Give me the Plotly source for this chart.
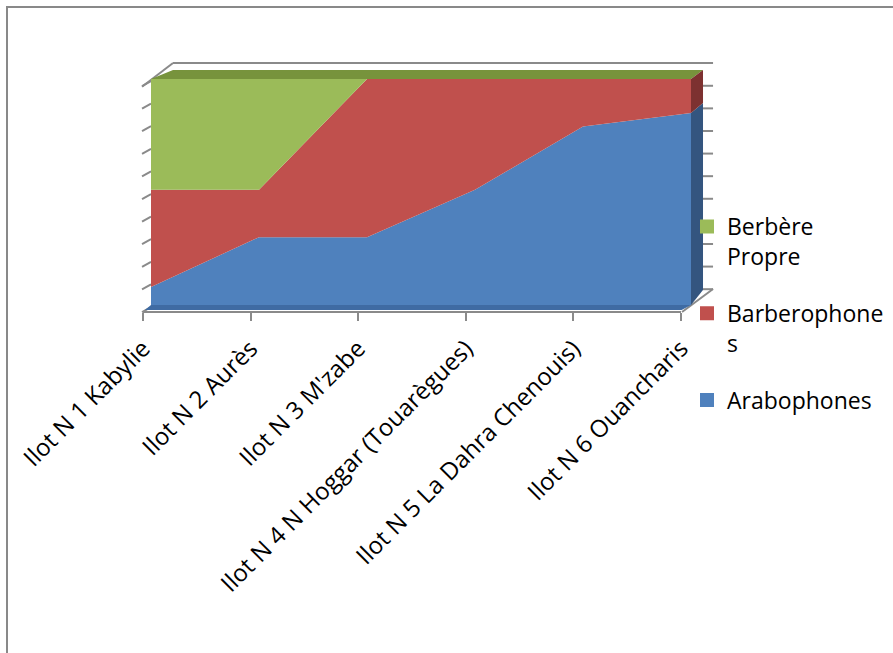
import plotly.graph_objects as go

# ---- data (percent) ----
categories = ["Ilot N 1 Kabylie", "Ilot N 2 Aurès", "Ilot N 3 M'zabe",
              "Ilot N 4 N Hoggar (Touarègues)", "Ilot N 5 La Dahra Chenouis)",
              "Ilot N 6 Ouancharis"]
arabophones = [8, 30, 30, 51, 79, 85]
barberophones = [43, 21, 70, 49, 21, 15]
berbere_propre = [49, 49, 0, 0, 0, 0]
series_names = ["Arabophones", "Barberophones", "Berbère Propre"]
legend_labels = ["Arabophones", "Barberophone<br>s", "Berbère<br>Propre"]
y_ticks = list(range(0, 101, 10))

# ---- styling ----
W, H = 893, 653
FONT = "Open Sans"
c_front = ["#4F81BD", "#C0504D", "#9BBB59"]
c_side = ["#34557F", "#7D3130", "#76923C"]
c_floor = "#3F6BA3"
c_top = "#77933C"
grid_c = "#8A8A8A"

# pixel layout of the front face: index 0 -> 151px, last -> 691px ; 0% -> 305px, 100% -> 79px
px_x0, px_x1 = 151, 691
px_y0, px_y100 = 305, 79
area_l, area_r, area_t, area_b = 130, 730, 50, 330
n = len(categories)
ux = (px_x1 - px_x0) / (n - 1)
uy = (px_y0 - px_y100) / 100.0
xr = [(area_l - px_x0) / ux, (n - 1) + (area_r - px_x1) / ux]
yr = [-(area_b - px_y0) / uy, 100 + (px_y100 - area_t) / uy]

# perspective of the back plane
def bx(u):
    return 0.2037 + 0.9815 * u

def by(v):
    return 6.64 + 0.9735 * v

xs = list(range(n))
fig = go.Figure()

# front faces (stacked areas)
for vals, name, col in zip([arabophones, barberophones, berbere_propre], series_names, c_front):
    fig.add_trace(go.Scatter(x=xs, y=vals, name=name, stackgroup="one", mode="none",
                             fillcolor=col, showlegend=False, hoverinfo="skip"))

# cumulative tops for side face
cum1 = [a for a in arabophones]
cum2 = [a + b for a, b in zip(arabophones, barberophones)]
cum3 = [a + b + c for a, b, c in zip(arabophones, barberophones, berbere_propre)]
last = n - 1

# bottom band (floor edge of the first series)
fig.add_trace(go.Scatter(x=[0, last, last - 0.087, -0.056, 0], y=[0, 0, -2.2, -2.2, 0],
                         fill="toself", fillcolor=c_floor, mode="none", showlegend=False, hoverinfo="skip"))
# top face
fig.add_trace(go.Scatter(x=[0, last, bx(last), bx(0), 0],
                         y=[cum3[0], cum3[last], by(cum3[last]), by(cum3[0]), cum3[0]],
                         fill="toself", fillcolor=c_top, mode="none", showlegend=False, hoverinfo="skip"))
# right side faces
lows = [0, cum1[last], cum2[last]]
highs = [cum1[last], cum2[last], cum3[last]]
for lo, hi, col in zip(lows, highs, c_side):
    if hi - lo <= 0:
        continue
    fig.add_trace(go.Scatter(x=[last, last, bx(last), bx(last), last],
                             y=[lo, hi, by(hi), by(lo), lo],
                             fill="toself", fillcolor=col, mode="none", showlegend=False, hoverinfo="skip"))

# legend-only entries (square swatches)
for lab, col in zip(legend_labels[::-1], c_front[::-1]):
    fig.add_trace(go.Bar(x=[None], y=[None], name=lab, marker=dict(color=col, line=dict(color=col, width=2)),
                         legendgroup=lab, showlegend=True))

# invisible trace carrying the category axis
fig.add_trace(go.Scatter(x=xs, y=[None] * n, xaxis="x2", yaxis="y", mode="markers",
                         showlegend=False, hoverinfo="skip"))

# wall grid stubs and box edges
shapes = []
for v in y_ticks:
    shapes.append(dict(type="line", xref="x", yref="y", x0=-0.083, y0=v - 3.1, x1=0.0, y1=v - 0.9,
                       line=dict(color=grid_c, width=2), layer="below"))
    if v > 0:
        shapes.append(dict(type="line", xref="x", yref="y", x0=bx(last), y0=v - 3.0, x1=bx(last) + 0.093, y1=v - 3.0,
                           line=dict(color=grid_c, width=2), layer="below"))
top_back = 107.1
shapes.append(dict(type="line", xref="x", yref="y", x0=-0.083, y0=96.6, x1=bx(0), y1=top_back,
                   line=dict(color=grid_c, width=2), layer="below"))
shapes.append(dict(type="line", xref="x", yref="y", x0=bx(0), y0=top_back, x1=bx(last) + 0.093, y1=top_back,
                   line=dict(color=grid_c, width=2), layer="below"))
shapes.append(dict(type="line", xref="x", yref="y", x0=bx(last) + 0.093, y0=7.1, x1=last - 0.083, y1=-3.1,
                   line=dict(color=grid_c, width=2), layer="below"))
# outer chart border
shapes.append(dict(type="rect", xref="paper", yref="paper", x0=7 / W, y0=-0.05, x1=1.05, y1=1 - 7 / H,
                   line=dict(color="#898989", width=2), fillcolor="rgba(0,0,0,0)", layer="below"))

fig.update_layout(
    width=W, height=H,
    margin=dict(l=0, r=0, t=0, b=0, autoexpand=False),
    paper_bgcolor="white", plot_bgcolor="rgba(0,0,0,0)",
    font=dict(family=FONT, size=23, color="black"),
    xaxis=dict(domain=[area_l / W, area_r / W], range=xr, visible=False, fixedrange=True, automargin=False),
    yaxis=dict(domain=[1 - area_b / H, 1 - area_t / H], range=yr, visible=False, fixedrange=True, automargin=False),
    xaxis2=dict(domain=[143 / W, 681 / W], range=[0, n - 1], anchor="free", position=1 - 312 / H,
                tickmode="array", tickvals=xs, ticktext=categories, tickangle=-45,
                ticks="outside", ticklen=8, tickwidth=2, tickcolor=grid_c, automargin=False,
                ticklabelstandoff=4,
                showline=True, linecolor=grid_c, linewidth=2, showgrid=False, zeroline=False,
                tickfont=dict(family=FONT, size=24, color="black"), fixedrange=True),
    shapes=shapes,
    showlegend=True,
    legend=dict(x=687 / W, y=1 - 205 / H, xanchor="left", yanchor="top", traceorder="grouped",
                tracegroupgap=24, valign="top", bgcolor="rgba(0,0,0,0)",
                font=dict(family=FONT, size=23, color="black")),
)

fig.write_html("out.html")
